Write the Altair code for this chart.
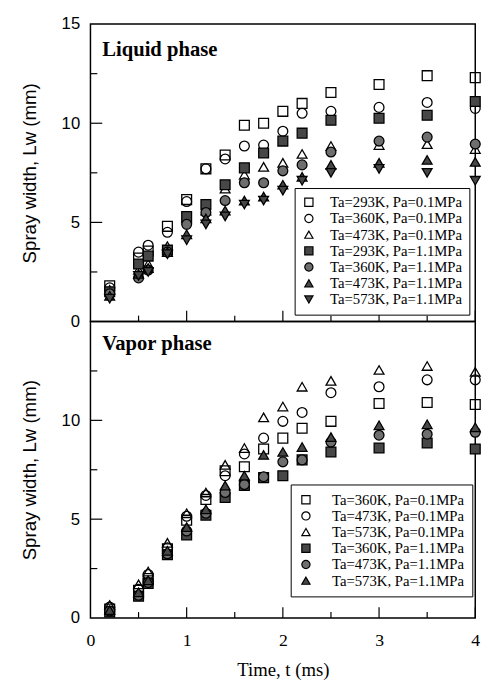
import altair as alt
import pandas as pd

times = [0.2, 0.5, 0.6, 0.8, 1.0, 1.2, 1.4, 1.6, 1.8, 2.0, 2.2, 2.5, 3.0, 3.5, 4.0]

liq_labels = ["Ta=293K, Pa=0.1MPa", "Ta=360K, Pa=0.1MPa", "Ta=473K, Pa=0.1MPa",
              "Ta=293K, Pa=1.1MPa", "Ta=360K, Pa=1.1MPa", "Ta=473K, Pa=1.1MPa",
              "Ta=573K, Pa=1.1MPa"]
liq_293_01 = [1.8, 3.2, 3.55, 4.8, 6.15, 7.7, 8.4, 9.9, 10.0, 10.6, 11.0, 11.55, 11.95, 12.4, 12.3]
liq_360_01 = [1.7, 3.5, 3.85, 4.5, 6.05, 7.7, 8.2, 8.85, 8.9, 9.6, 10.5, 10.6, 10.8, 11.05, 10.75]
liq_473_01 = [1.6, 2.6, 2.9, 3.8, 5.2, 5.6, 6.7, 7.4, 7.8, 8.0, 8.45, 8.85, 8.9, 8.95, 8.7]
liq_293_11 = [1.5, 2.9, 3.3, 3.6, 5.3, 5.9, 6.9, 7.75, 8.5, 9.1, 9.5, 10.15, 10.25, 10.4, 11.1]
liq_360_11 = [1.4, 2.2, 2.6, 3.5, 4.9, 5.5, 6.1, 7.0, 7.0, 7.6, 7.9, 8.55, 9.1, 9.3, 8.95]
liq_473_11 = [1.3, 2.4, 2.7, 3.5, 4.4, 5.2, 5.6, 6.1, 6.3, 6.9, 7.3, 7.9, 8.0, 8.15, 8.05]
liq_573_11 = [1.15, 2.3, 2.5, 3.4, 4.1, 4.9, 5.3, 5.9, 6.1, 6.6, 7.1, 7.5, 7.7, 7.5, 7.1]
liq_values = [liq_293_01, liq_360_01, liq_473_01, liq_293_11, liq_360_11, liq_473_11, liq_573_11]

vap_labels = ["Ta=360K, Pa=0.1MPa", "Ta=473K, Pa=0.1MPa", "Ta=573K, Pa=0.1MPa",
              "Ta=360K, Pa=1.1MPa", "Ta=473K, Pa=1.1MPa", "Ta=573K, Pa=1.1MPa"]
vap_360_01 = [0.45, 1.4, 2.0, 3.5, 4.95, 6.0, 7.45, 7.65, 8.55, 9.1, 9.6, 9.95, 10.85, 10.9, 10.8]
vap_473_01 = [0.55, 1.45, 2.2, 3.55, 5.15, 6.2, 7.2, 8.3, 9.1, 9.95, 10.4, 11.4, 11.7, 12.05, 12.05]
vap_573_01 = [0.65, 1.7, 2.35, 3.8, 5.3, 6.35, 7.75, 8.6, 10.15, 10.7, 11.7, 12.0, 12.55, 12.75, 12.45]
vap_360_11 = [0.3, 1.1, 1.75, 3.2, 4.2, 5.2, 6.1, 6.7, 7.1, 7.2, 8.0, 8.4, 8.6, 8.85, 8.55]
vap_473_11 = [0.35, 1.15, 1.8, 3.25, 4.4, 5.3, 6.35, 6.75, 7.15, 7.9, 8.0, 8.9, 9.25, 9.3, 9.4]
vap_573_11 = [0.4, 1.3, 1.9, 3.4, 4.6, 5.5, 6.7, 7.2, 8.25, 8.4, 8.65, 9.15, 9.75, 9.8, 9.65]
vap_values = [vap_360_01, vap_473_01, vap_573_01, vap_360_11, vap_473_11, vap_573_11]

liq_shapes = ["square", "circle", "triangle-up", "square", "circle", "triangle-up", "triangle-down"]
liq_fills = ["transparent", "transparent", "transparent", "#474747", "#6e6e6e", "#474747", "#474747"]
vap_shapes = ["square", "circle", "triangle-up", "square", "circle", "triangle-up"]
vap_fills = ["transparent", "transparent", "transparent", "#474747", "#6e6e6e", "#474747"]

y_major = [5, 10]
y_minor = [2.5, 7.5, 12.5]
x_major = [1, 2, 3, 4]
x_minor = [0.5, 1.5, 2.5, 3.5]
x_labels = [0, 1, 2, 3, 4]

W = 392


def long_df(labels, values):
    rows = []
    for lab, vals in zip(labels, values):
        for t, v in zip(times, vals):
            rows.append({"series": lab, "t": t, "w": v})
    return pd.DataFrame(rows)


def panel(labels, values, shapes, fills, title, H, y_labels, show_x, lx, ly, loff, lpad, ty):
    df = long_df(labels, values)
    xscale = alt.Scale(domain=[0, 4], nice=False)
    yscale = alt.Scale(domain=[0, 15], nice=False)
    yaxis = alt.Axis(values=y_labels, title="Spray width, Lw (mm)", ticks=False, domain=False,
                     grid=False, labelFont="Liberation Sans", labelFontSize=17, labelPadding=11,
                     labelColor="black", titleColor="black",
                     titleFont="Liberation Sans", titleFontSize=19, titleFontWeight="normal",
                     titlePadding=22)

    def X():
        if show_x:
            return alt.X("t:Q", scale=xscale,
                         axis=alt.Axis(values=x_labels, title="Time, t (ms)", ticks=False,
                                       domain=False, grid=False, format="d", labelFlush=False,
                                       labelFont="Liberation Serif", labelFontSize=18,
                                       labelPadding=14, labelColor="black", titleColor="black",
                                       titleFont="Liberation Serif", titleFontSize=19,
                                       titleFontWeight="normal", titlePadding=12))
        return alt.X("t:Q", scale=xscale, axis=None)

    def Y():
        return alt.Y("w:Q", scale=yscale, axis=yaxis)

    legend = alt.Legend(title=None, orient="none", legendX=lx, legendY=ly, strokeColor="black",
                        fillColor="white", padding=lpad, labelFont="Liberation Serif",
                        labelFontSize=15, labelColor="black", symbolSize=70,
                        symbolStrokeColor="black", symbolStrokeWidth=1.2, rowPadding=0.5,
                        labelOffset=loff, labelLimit=300)
    points = alt.Chart(df).mark_point(filled=True, opacity=1, strokeWidth=1.3,
                                      size=100).encode(
        x=X(),
        y=Y(),
        shape=alt.Shape("series:N", scale=alt.Scale(domain=labels, range=shapes), legend=legend),
        fill=alt.Fill("series:N", scale=alt.Scale(domain=labels, range=fills), legend=legend),
        stroke=alt.Stroke("series:N", scale=alt.Scale(domain=labels, range=["black"] * len(labels)),
                          legend=legend),
    )
    ymaj = alt.Chart(pd.DataFrame({"w": y_major})).mark_rule(color="black", strokeWidth=1.2).encode(
        y=Y(), x=alt.value(0), x2=alt.value(12))
    ymin = alt.Chart(pd.DataFrame({"w": y_minor})).mark_rule(color="black", strokeWidth=1.2).encode(
        y=Y(), x=alt.value(0), x2=alt.value(7))
    xmaj = alt.Chart(pd.DataFrame({"t": x_major})).mark_rule(color="black", strokeWidth=1.2).encode(
        x=X(), y=alt.value(H), y2=alt.value(H - 11))
    xmin = alt.Chart(pd.DataFrame({"t": x_minor})).mark_rule(color="black", strokeWidth=1.2).encode(
        x=X(), y=alt.value(H), y2=alt.value(H - 6))
    label = alt.Chart(pd.DataFrame({"label": [title]})).mark_text(
        align="left", baseline="alphabetic", font="Liberation Serif", fontSize=21,
        fontWeight="bold", color="black").encode(
        text="label:N", x=alt.value(12), y=alt.value(ty))
    return alt.layer(points, ymaj, ymin, xmaj, xmin, label).properties(width=W, height=H)


top = panel(liq_labels, liq_values, liq_shapes, liq_fills, "Liquid phase", 303,
            [0, 5, 10, 15], False, 208, 167, 14, 7, 32)
bottom = panel(vap_labels, vap_values, vap_shapes, vap_fills, "Vapor phase", 302,
               [0, 5, 10], True, 204, 166, 19, 8, 29)

chart = alt.vconcat(top, bottom, spacing=0, bounds="flush").resolve_scale(
    shape="independent", fill="independent", stroke="independent",
    x="independent", y="independent"
).configure_view(stroke="black", strokeWidth=1.5).properties(
    padding={"left": 12, "top": 0, "right": 5, "bottom": 5}
)

chart.save("out.html", embed_options={"renderer": "svg", "actions": False})
